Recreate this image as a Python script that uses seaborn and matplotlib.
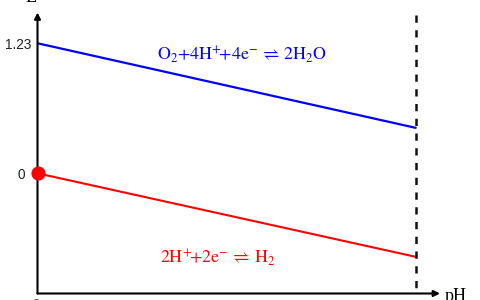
import matplotlib
matplotlib.use("Agg")
import matplotlib.pyplot as plt
import seaborn as sns
import pandas as pd

# ---- data ----
ph = [0, 14]
e_o2 = [1.23, 0.43]      # O2 / H2O line
e_h2 = [0.00, -0.79]     # H+ / H2 line
ytick_vals = [0, 1.23]
ytick_labels = ["0", "1.23"]
ph_limit = 14

sns.set_theme(style="white")
plt.rcParams["font.family"] = ["Liberation Sans", "DejaVu Sans"]
plt.rcParams["mathtext.fontset"] = "stix"

fig = plt.figure(figsize=(4.8, 3.0), dpi=100)
ax = fig.add_axes([37.5 / 480, 6.5 / 300, 402.5 / 480, 281 / 300])

df = pd.DataFrame({"pH": ph, "O2": e_o2, "H2": e_h2})
sns.lineplot(data=df, x="pH", y="O2", ax=ax, color="#0000ff", lw=1.6)
sns.lineplot(data=df, x="pH", y="H2", ax=ax, color="#ff0000", lw=1.5)
ax.plot([ph[0]], [e_h2[0]], "o", color="#ff0000", ms=9.2, clip_on=False, zorder=5)

ax.set_xlim(0, 14.9)
ax.set_ylim(-1.137, 1.521)

# dashed vertical at pH 14
ax.plot([ph_limit, ph_limit], [1.50, -1.137], color="#111111", lw=1.8,
        linestyle=(0, (2.9, 3.0)), clip_on=False)

for s in ax.spines.values():
    s.set_visible(False)
arrow = dict(arrowstyle="-|>", lw=1.5, color="black", mutation_scale=9,
             shrinkA=0, shrinkB=0)
ax.annotate("", xy=(0, 1), xycoords="axes fraction", xytext=(0, 0), arrowprops=arrow)
ax.annotate("", xy=(1, 0), xycoords="axes fraction", xytext=(0, 0), arrowprops=arrow)

ax.set_xticks([])
ax.set_yticks(ytick_vals)
ax.set_yticklabels(ytick_labels, fontsize=9.8, color="#222222")
ax.tick_params(axis="y", length=0, pad=4.2)
ax.yaxis.get_major_ticks()[0].set_pad(9)
ax.set_xlabel("")
ax.set_ylabel("")

ax.text(7.57, 1.072, r"$\mathrm{O_2{+}4H^{+}\!{+}4e^{-}\,\rightleftharpoons\,2H_2O}$",
        color="#0000ff", fontsize=12.9, ha="center", va="baseline")
ax.text(6.66, -0.849, r"$\mathrm{2H^{+}\!{+}2e^{-}\,\rightleftharpoons\,H_2}$",
        color="#ff0000", fontsize=12.9, ha="center", va="baseline")

fig.text(445 / 480, 12 / 300, "pH", family="Liberation Serif", fontsize=13,
         ha="left", va="top", color="black")
fig.text(31 / 480, 298.5 / 300, "E", family="Liberation Serif", fontsize=13,
         ha="center", va="baseline", color="black")
fig.text(36 / 480, 1 / 300, "0", fontsize=9.5, ha="center", va="top", color="#444444")

fig.savefig("out.png", dpi=100)
